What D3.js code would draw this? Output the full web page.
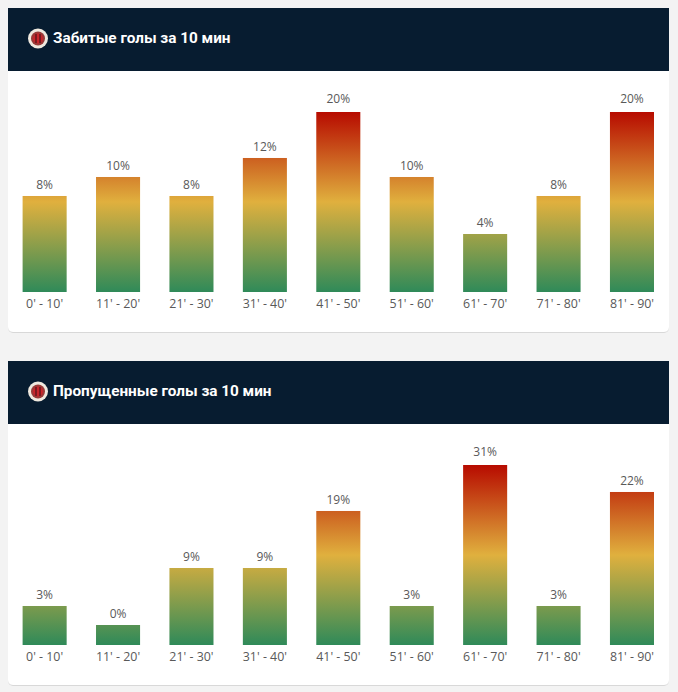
<!DOCTYPE html>
<html>
<head>
<meta charset="utf-8">
<script src="https://cdn.jsdelivr.net/npm/d3@7"></script>
<style>
  html, body { margin: 0; padding: 0; background: #f3f3f3; }
  svg { display: block; }
  .title { font: 700 15.3px Roboto, sans-serif; fill: #fff; }
  .pct { font: 12px "Open Sans", sans-serif; fill: #595959; text-anchor: middle; }
  .axis text { font: 12.4px "Open Sans", sans-serif; fill: #595959; }
</style>
</head>
<body>
<script>
const periods = ["0' - 10'", "11' - 20'", "21' - 30'", "31' - 40'", "41' - 50'", "51' - 60'", "61' - 70'", "71' - 80'", "81' - 90'"]

// goals per period, the bar height follows these, the labels are the share of the total
const scoredGoals = [4, 5, 4, 6, 10, 5, 2, 4, 10]
const scoredLabels = ['8%', '10%', '8%', '12%', '20%', '10%', '4%', '8%', '20%']
const concededGoals = [1, 0, 3, 3, 6, 1, 10, 1, 7]
const concededLabels = ['3%', '0%', '9%', '9%', '19%', '3%', '31%', '3%', '22%']

const gradientStops = [
  { offset: '0%', color: '#b70b00' },
  { offset: '50%', color: '#e0b03e' },
  { offset: '100%', color: '#2f8a59' }
]

const svg = d3.select('body').append('svg')
  .attr('width', 678)
  .attr('height', 692)

const defs = svg.append('defs')

const shadow = defs.append('filter')
  .attr('id', 'card-shadow')
  .attr('x', '-2%').attr('y', '-2%').attr('width', '104%').attr('height', '104%')
shadow.append('feDropShadow')
  .attr('dx', 0).attr('dy', 0.5)
  .attr('stdDeviation', 0.7)
  .attr('flood-color', '#000')
  .attr('flood-opacity', 0.22)

const x = d3.scaleBand()
  .domain(periods)
  .range([22.6, 654])
  .paddingInner(0.4)
  .paddingOuter(0)

function drawCard (top, title, goals, labels, id) {
  const card = svg.append('g').attr('transform', `translate(0,${top})`)
  const bottom = 284
  const plotTop = 104

  // goals -> bar top, zero still gets a stub and the tallest bars are capped
  const y = d3.scaleLinear()
    .domain([0, 8.42])
    .range([bottom - 20, plotTop])
    .clamp(true)

  const gradient = defs.append('linearGradient')
    .attr('id', id)
    .attr('gradientUnits', 'userSpaceOnUse')
    .attr('x1', 0).attr('x2', 0)
    .attr('y1', plotTop).attr('y2', bottom)
  gradient.selectAll('stop').data(gradientStops)
    .enter().append('stop')
    .attr('offset', d => d.offset)
    .attr('stop-color', d => d.color)

  card.append('rect')
    .attr('x', 8).attr('y', 0)
    .attr('width', 661).attr('height', 324)
    .attr('rx', 5)
    .attr('fill', '#fff')
    .attr('filter', 'url(#card-shadow)')

  card.append('rect')
    .attr('x', 8).attr('y', 0)
    .attr('width', 661).attr('height', 63)
    .attr('fill', '#071c30')

  const logo = card.append('g').attr('transform', 'translate(38,30.5)')
  logo.append('circle').attr('r', 10).attr('fill', '#efe9df')
  logo.append('circle').attr('r', 7).attr('fill', '#9a3a38')
  logo.append('circle').attr('r', 5).attr('fill', '#c9252b')
  logo.append('rect').attr('x', -2.6).attr('y', -4.5).attr('width', 1.2).attr('height', 9).attr('fill', '#4a1518')
  logo.append('rect').attr('x', 1.4).attr('y', -4.5).attr('width', 1.2).attr('height', 9).attr('fill', '#4a1518')

  card.append('text')
    .attr('class', 'title')
    .attr('x', 53).attr('y', 35)
    .text(title)

  card.selectAll('.bar').data(goals)
    .enter().append('rect')
    .attr('class', 'bar')
    .attr('x', (d, i) => x(periods[i]))
    .attr('width', x.bandwidth())
    .attr('y', d => y(d))
    .attr('height', d => bottom - y(d))
    .attr('fill', `url(#${id})`)

  card.selectAll('.pct').data(goals)
    .enter().append('text')
    .attr('class', 'pct')
    .attr('x', (d, i) => x(periods[i]) + x.bandwidth() / 2)
    .attr('y', d => y(d) - (d >= 10 ? 9 : 7))
    .text((d, i) => labels[i])

  card.append('g')
    .attr('class', 'axis')
    .attr('transform', `translate(0,${bottom})`)
    .call(d3.axisBottom(x).tickSize(0).tickPadding(7))
    .call(g => g.select('.domain').remove())
}

drawCard(8, 'Забитые голы за 10 мин', scoredGoals, scoredLabels, 'heat-scored')
drawCard(361, 'Пропущенные голы за 10 мин', concededGoals, concededLabels, 'heat-conceded')
</script>
</body>
</html>
